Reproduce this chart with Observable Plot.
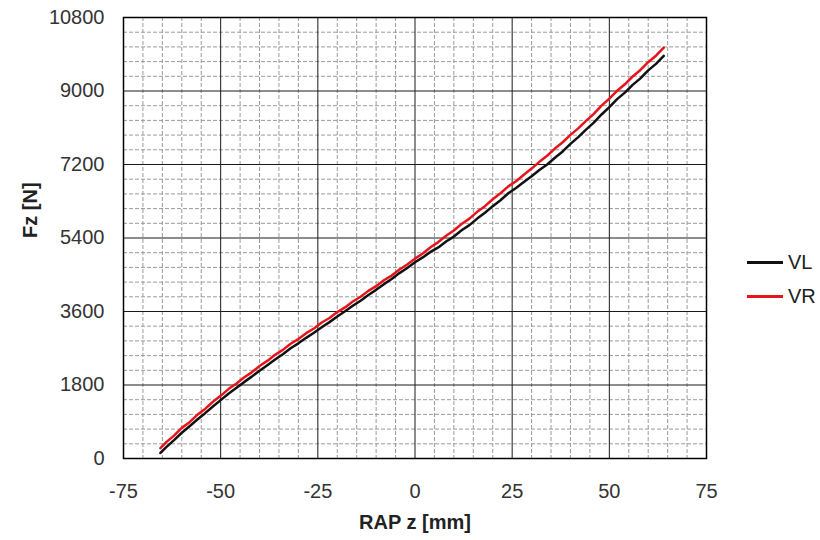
<!DOCTYPE html>
<html><head><meta charset="utf-8">
<script src="https://cdn.jsdelivr.net/npm/d3@7"></script>
<script src="https://cdn.jsdelivr.net/npm/@observablehq/plot@0.6"></script>
<style>
body{margin:0;background:#fff;font-family:"Liberation Sans",Arial,sans-serif;}
#wrap{position:relative;width:820px;height:540px;}
.leg{position:absolute;left:747px;height:0;}
.leg .sw{position:absolute;left:0;top:-1.5px;width:36px;height:3px;}
.leg .lb{position:absolute;left:41px;top:-12px;font-size:20px;line-height:24px;color:#222;white-space:nowrap;}
</style></head><body><div id="wrap"></div>
<script>
const xTicks = [-75, -50, -25, 0, 25, 50, 75];
const yTicks = [0, 1800, 3600, 5400, 7200, 9000, 10800];
const xMinor = d3.range(-75, 76, 5).filter(v => v % 25 !== 0);
const yMinor = d3.range(0, 10801, 360).filter(v => v % 1800 !== 0);
const seriesNames = ["VL", "VR"];
const seriesColors = ["#111111", "#e8141c"];
const xLabel = "RAP z [mm]";
const yLabel = "Fz [N]";

const z = [-65.5, -64, -62, -60, -58, -56, -54, -52, -50, -48, -46, -44, -42, -40, -38, -36, -34, -32, -30, -28, -26, -24, -22, -20, -18, -16, -14, -12, -10, -8, -6, -4, -2, 0, 2, 4, 6, 8, 10, 12, 14, 16, 18, 20, 22, 24, 26, 28, 30, 32, 34, 36, 38, 40, 42, 44, 46, 48, 50, 52, 54, 56, 58, 60, 62, 64];
const vr = [255, 400, 560, 750, 890, 1070, 1215, 1390, 1535, 1700, 1830, 1985, 2110, 2265, 2390, 2540, 2660, 2810, 2925, 3070, 3185, 3330, 3440, 3585, 3700, 3845, 3960, 4105, 4220, 4365, 4480, 4630, 4750, 4895, 5020, 5175, 5300, 5455, 5585, 5745, 5875, 6040, 6180, 6350, 6495, 6665, 6790, 6950, 7100, 7265, 7415, 7590, 7745, 7925, 8085, 8270, 8440, 8640, 8815, 9005, 9165, 9355, 9515, 9705, 9865, 10060];
const vl = [135, 280, 450, 630, 790, 955, 1110, 1275, 1430, 1585, 1725, 1870, 2005, 2150, 2285, 2425, 2555, 2700, 2820, 2955, 3080, 3215, 3340, 3475, 3605, 3740, 3865, 4005, 4130, 4270, 4395, 4540, 4665, 4805, 4925, 5060, 5170, 5315, 5435, 5590, 5715, 5875, 6020, 6180, 6325, 6495, 6625, 6770, 6910, 7065, 7200, 7365, 7520, 7705, 7870, 8055, 8225, 8425, 8605, 8800, 8960, 9150, 9310, 9505, 9665, 9860];

const fmt = d => String(d);
const chart = Plot.plot({
  width: 820,
  height: 540,
  marginLeft: 123,
  marginRight: 114,
  marginTop: 17,
  marginBottom: 82,
  style: {fontSize: "20px", fontFamily: "'Liberation Sans', Arial, sans-serif", color: "#333", background: "#fff"},
  x: {domain: [-75, 75], ticks: xTicks, tickFormat: fmt, tickSize: 0, tickPadding: 25, label: null},
  y: {domain: [0, 10800], ticks: yTicks, tickFormat: fmt, tickSize: 0, tickPadding: 19, label: null},
  marks: [
    Plot.ruleX(xMinor, {stroke: "#9a9a9a", strokeWidth: 1, strokeDasharray: "4,2"}),
    Plot.ruleY(yMinor, {stroke: "#9a9a9a", strokeWidth: 1, strokeDasharray: "4,2"}),
    Plot.ruleX(xTicks, {stroke: "#1a1a1a", strokeWidth: 1}),
    Plot.ruleY(yTicks, {stroke: "#1a1a1a", strokeWidth: 1}),
    Plot.frame({stroke: "#000", strokeWidth: 1.5}),
    Plot.line(z, {x: z, y: vl, stroke: seriesColors[0], strokeWidth: 2.5}),
    Plot.line(z, {x: z, y: vr, stroke: seriesColors[1], strokeWidth: 2.5}),
    Plot.text([xLabel], {frameAnchor: "bottom", lineAnchor: "middle", dy: 64, fontWeight: "bold", fontSize: 20, fill: "#222"}),
    Plot.text([yLabel], {frameAnchor: "left", rotate: -90, dx: -93, fontWeight: "bold", fontSize: 20, fill: "#222"})
  ]
});
const wrap = document.getElementById("wrap");
wrap.appendChild(chart);
const legTops = [262, 296];
seriesNames.forEach((name, i) => {
  const d = document.createElement("div");
  d.className = "leg";
  d.style.top = legTops[i] + "px";
  d.innerHTML = `<div class="sw" style="background:${seriesColors[i]}"></div><div class="lb">${name}</div>`;
  wrap.appendChild(d);
});
</script></body></html>
